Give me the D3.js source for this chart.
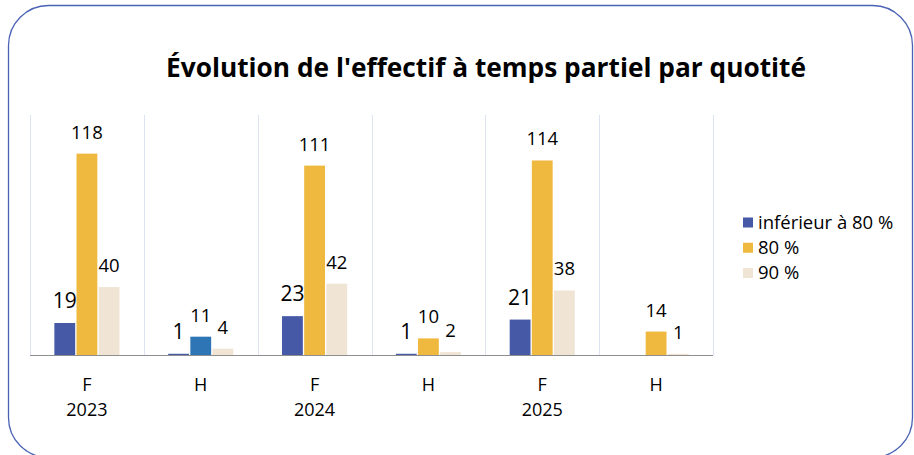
<!DOCTYPE html>
<html>
<head>
<meta charset="utf-8">
<script src="https://cdn.jsdelivr.net/npm/d3@7/dist/d3.min.js"></script>
<style>
  html, body { margin: 0; padding: 0; background: #fff; }
  svg { display: block; }
</style>
</head>
<body>
<svg id="chart" width="914" height="455"></svg>
<script>
// ---- Data ----
const categories = ["F", "H", "F", "H", "F", "H"];
const years = ["2023", "", "2024", "", "2025", ""];
const seriesNames = ["inférieur à 80 %", "80 %", "90 %"];
const inferieur80 = [19, 1, 23, 1, 21, null];
const pct80 = [118, 11, 111, 10, 114, 14];
const pct90 = [40, 4, 42, 2, 38, 1];
const seriesValues = [inferieur80, pct80, pct90];
const yDomain = [0, 140];

// ---- Styles ----
const seriesColors = ["#4559A6", "#EFB93F", "#F0E4D5"];
const pointColorOverride = { "1-1": "#2E75B6" }; // series 1, category 1
const labelSizes = [21, 18.5, 18.5];
const font = "'Open Sans', 'Liberation Sans', sans-serif";

const svg = d3.select("#chart");

// Outer rounded frame
svg.append("rect")
  .attr("x", 8.5).attr("y", 5.5)
  .attr("width", 904).attr("height", 452)
  .attr("rx", 40).attr("ry", 40)
  .attr("fill", "#fff")
  .attr("stroke", "#4A62B4")
  .attr("stroke-width", 1.3);

// Title
svg.append("text")
  .attr("x", 166).attr("y", 77)
  .attr("font-family", font)
  .attr("font-weight", 700)
  .attr("font-size", 27)
  .attr("textLength", 640)
  .attr("lengthAdjust", "spacingAndGlyphs")
  .attr("fill", "#000")
  .text("Évolution de l'effectif à temps partiel par quotité");

// Scales
const plotLeft = 30, plotRight = 713, plotTop = 116, plotBottom = 355.5;
const idx = categories.map((d, i) => i);
const x0 = d3.scaleBand().domain(idx).range([plotLeft, plotRight]).padding(0);
const x1 = d3.scaleBand().domain([0, 1, 2]).range([0, x0.bandwidth()])
  .paddingInner(0.06).paddingOuter(1.1);
const y = d3.scaleLinear().domain(yDomain).range([plotBottom, plotTop]);

// Vertical gridlines (category separators)
const gridXs = idx.map(i => x0(i)).concat([x0(idx[idx.length - 1]) + x0.bandwidth()]);
svg.append("g").selectAll("line")
  .data(gridXs)
  .join("line")
  .attr("x1", d => Math.round(d) + 0.5).attr("x2", d => Math.round(d) + 0.5)
  .attr("y1", plotTop - 1).attr("y2", plotBottom)
  .attr("stroke", "#DCE3F1")
  .attr("stroke-width", 1);

// Bars
const barData = [];
seriesValues.forEach((vals, s) => {
  vals.forEach((v, c) => {
    if (v !== null && v !== undefined) barData.push({ s, c, v });
  });
});

svg.append("g").selectAll("rect")
  .data(barData)
  .join("rect")
  .attr("x", d => x0(d.c) + x1(d.s))
  .attr("width", x1.bandwidth())
  .attr("y", d => y(d.v))
  .attr("height", d => y(0) - y(d.v))
  .attr("fill", d => pointColorOverride[d.s + "-" + d.c] || seriesColors[d.s]);

// X axis baseline
svg.append("line")
  .attr("x1", plotLeft).attr("x2", plotRight)
  .attr("y1", plotBottom).attr("y2", plotBottom)
  .attr("stroke", "#8E8E8E").attr("stroke-width", 1.2);

// Value labels
svg.append("g").selectAll("text")
  .data(barData)
  .join("text")
  .attr("x", d => x0(d.c) + x1(d.s) + x1.bandwidth() / 2)
  .attr("y", d => y(d.v) - 15)
  .attr("text-anchor", "middle")
  .attr("font-family", font)
  .attr("font-size", d => labelSizes[d.s])
  .attr("fill", "#000")
  .text(d => d.v);

// Category labels
const axisG = svg.append("g");
axisG.selectAll("text.cat")
  .data(categories)
  .join("text")
  .attr("class", "cat")
  .attr("x", (d, i) => x0(i) + x0.bandwidth() / 2)
  .attr("y", 391)
  .attr("text-anchor", "middle")
  .attr("font-family", font)
  .attr("font-size", 18)
  .attr("fill", "#000")
  .text(d => d);

axisG.selectAll("text.year")
  .data(years)
  .join("text")
  .attr("class", "year")
  .attr("x", (d, i) => x0(i) + x0.bandwidth() / 2)
  .attr("y", 416)
  .attr("text-anchor", "middle")
  .attr("font-family", font)
  .attr("font-size", 18)
  .attr("fill", "#000")
  .text(d => d);

// Legend
const legend = svg.append("g").attr("transform", "translate(743,0)");
const legendY = d3.scalePoint().domain(seriesNames).range([222.5, 273]);
legend.selectAll("rect")
  .data(seriesNames)
  .join("rect")
  .attr("x", 0)
  .attr("y", d => legendY(d) - 5)
  .attr("width", 10).attr("height", 10)
  .attr("fill", (d, i) => seriesColors[i]);
legend.selectAll("text")
  .data(seriesNames)
  .join("text")
  .attr("x", 15)
  .attr("y", d => legendY(d) + 6)
  .attr("font-family", font)
  .attr("font-size", 18.5)
  .attr("fill", "#000")
  .text(d => d);
</script>
</body>
</html>
